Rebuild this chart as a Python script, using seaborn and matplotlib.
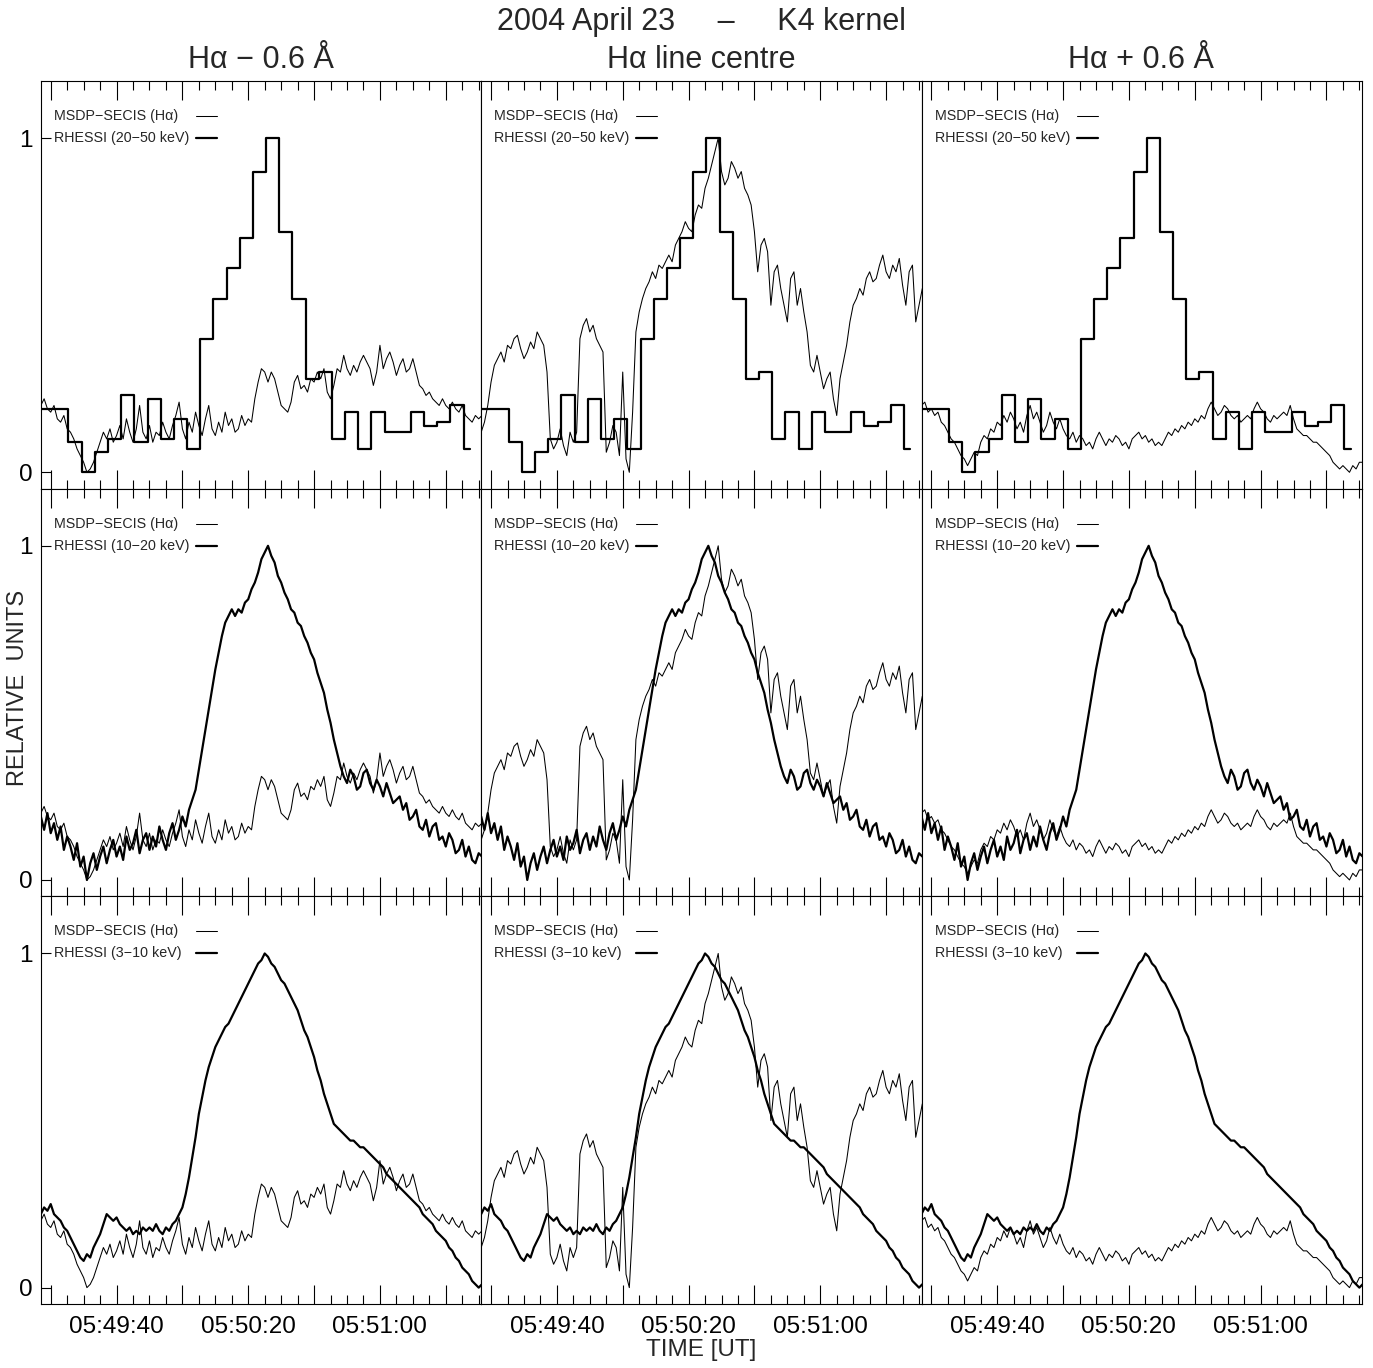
"""
2004 April 23 - K4 kernel: MSDP-SECIS H-alpha vs RHESSI light curves
"""

import numpy as np
import matplotlib
matplotlib.use('Agg')
import matplotlib.pyplot as plt
import seaborn as sns
from matplotlib.lines import Line2D
from matplotlib.ticker import MultipleLocator, FuncFormatter

# ====================
# Data (time in seconds after 05:49:00 UT)
# ====================
t_sec = np.arange(17, 152)          # 1 s cadence
t_bins = np.arange(15.4, 148, 4)    # 4 s RHESSI 20-50 keV bin centres

ha_blue = [  # H-alpha -0.6 A
    0.20, 0.22, 0.19, 0.18, 0.20, 0.16, 0.15, 0.17, 0.13, 0.12,
    0.10, 0.07, 0.05, 0.03, 0.00, 0.01, 0.03, 0.06, 0.09, 0.12,
    0.10, 0.13, 0.09, 0.11, 0.14, 0.10, 0.16, 0.12, 0.09, 0.13,
    0.20, 0.12, 0.10, 0.14, 0.09, 0.12, 0.11, 0.15, 0.12, 0.10,
    0.14, 0.17, 0.21, 0.13, 0.10, 0.15, 0.12, 0.18, 0.14, 0.11,
    0.16, 0.20, 0.13, 0.11, 0.15, 0.12, 0.18, 0.14, 0.16, 0.12,
    0.13, 0.17, 0.14, 0.16, 0.15, 0.22, 0.27, 0.31, 0.30, 0.27,
    0.30, 0.28, 0.24, 0.20, 0.19, 0.18, 0.21, 0.27, 0.29, 0.25,
    0.26, 0.24, 0.28, 0.27, 0.30, 0.28, 0.31, 0.24, 0.22, 0.26,
    0.31, 0.30, 0.35, 0.31, 0.29, 0.32, 0.30, 0.33, 0.35, 0.33,
    0.31, 0.26, 0.30, 0.38, 0.31, 0.34, 0.36, 0.33, 0.29, 0.32,
    0.34, 0.30, 0.31, 0.34, 0.30, 0.26, 0.25, 0.23, 0.24, 0.22,
    0.21, 0.20, 0.22, 0.20, 0.19, 0.21, 0.19, 0.18, 0.20, 0.17,
    0.16, 0.15, 0.17, 0.16, 0.17,
]

ha_centre = [  # H-alpha line centre
    0.12, 0.15, 0.20, 0.27, 0.32, 0.34, 0.36, 0.33, 0.38, 0.37,
    0.40, 0.41, 0.37, 0.34, 0.36, 0.39, 0.37, 0.42, 0.40, 0.38,
    0.30, 0.10, 0.07, 0.09, 0.13, 0.08, 0.05, 0.12, 0.09, 0.12,
    0.40, 0.44, 0.46, 0.42, 0.44, 0.40, 0.38, 0.36, 0.06, 0.09,
    0.14, 0.12, 0.05, 0.30, 0.04, 0.00, 0.18, 0.42, 0.48, 0.52,
    0.55, 0.57, 0.60, 0.58, 0.62, 0.61, 0.63, 0.65, 0.63, 0.68,
    0.70, 0.72, 0.75, 0.73, 0.72, 0.77, 0.80, 0.79, 0.85, 0.88,
    0.92, 0.96, 1.00, 0.90, 0.86, 0.88, 0.93, 0.91, 0.88, 0.90,
    0.85, 0.83, 0.80, 0.72, 0.60, 0.68, 0.70, 0.66, 0.50, 0.60,
    0.62, 0.55, 0.50, 0.45, 0.58, 0.60, 0.50, 0.55, 0.48, 0.42,
    0.32, 0.30, 0.35, 0.30, 0.25, 0.28, 0.30, 0.22, 0.17, 0.28,
    0.33, 0.38, 0.45, 0.50, 0.52, 0.55, 0.53, 0.58, 0.60, 0.57,
    0.58, 0.62, 0.65, 0.60, 0.58, 0.62, 0.60, 0.64, 0.56, 0.50,
    0.60, 0.62, 0.45, 0.50, 0.55,
]

ha_red = [  # H-alpha +0.6 A
    0.20, 0.21, 0.18, 0.19, 0.17, 0.18, 0.15, 0.14, 0.12, 0.10,
    0.09, 0.07, 0.05, 0.04, 0.02, 0.04, 0.06, 0.05, 0.09, 0.11,
    0.10, 0.13, 0.12, 0.15, 0.14, 0.17, 0.15, 0.18, 0.16, 0.13,
    0.15, 0.12, 0.17, 0.20, 0.16, 0.18, 0.15, 0.12, 0.14, 0.18,
    0.15, 0.13, 0.16, 0.13, 0.11, 0.10, 0.12, 0.09, 0.11, 0.10,
    0.08, 0.09, 0.07, 0.10, 0.12, 0.10, 0.08, 0.10, 0.09, 0.11,
    0.10, 0.08, 0.09, 0.07, 0.10, 0.11, 0.12, 0.10, 0.11, 0.09,
    0.10, 0.08, 0.09, 0.08, 0.10, 0.12, 0.11, 0.13, 0.12, 0.14,
    0.13, 0.15, 0.14, 0.16, 0.15, 0.17, 0.16, 0.19, 0.21, 0.19,
    0.17, 0.18, 0.20, 0.19, 0.17, 0.16, 0.17, 0.15, 0.16, 0.17,
    0.16, 0.19, 0.21, 0.19, 0.18, 0.16, 0.15, 0.17, 0.16, 0.17,
    0.18, 0.17, 0.20, 0.16, 0.13, 0.12, 0.11, 0.11, 0.10, 0.09,
    0.09, 0.08, 0.07, 0.06, 0.05, 0.03, 0.02, 0.01, 0.02, 0.01,
    0.00, 0.02, 0.01, 0.03, 0.03,
]

hxr_10_20 = [  # RHESSI 10-20 keV
    0.19, 0.15, 0.20, 0.14, 0.17, 0.12, 0.16, 0.09, 0.13, 0.10,
    0.06, 0.11, 0.04, 0.07, 0.00, 0.05, 0.08, 0.03, 0.07, 0.10,
    0.05, 0.09, 0.12, 0.07, 0.10, 0.06, 0.13, 0.09, 0.11, 0.15,
    0.08, 0.12, 0.14, 0.09, 0.13, 0.10, 0.16, 0.12, 0.09, 0.14,
    0.17, 0.12, 0.15, 0.19, 0.16, 0.21, 0.24, 0.27, 0.33, 0.39,
    0.45, 0.51, 0.57, 0.63, 0.68, 0.73, 0.77, 0.79, 0.81, 0.79,
    0.81, 0.80, 0.83, 0.84, 0.87, 0.89, 0.92, 0.96, 0.98, 1.00,
    0.97, 0.95, 0.91, 0.89, 0.86, 0.84, 0.81, 0.80, 0.77, 0.76,
    0.73, 0.71, 0.68, 0.66, 0.62, 0.59, 0.56, 0.51, 0.47, 0.42,
    0.38, 0.34, 0.31, 0.29, 0.33, 0.31, 0.27, 0.28, 0.32, 0.33,
    0.29, 0.27, 0.30, 0.28, 0.25, 0.29, 0.26, 0.23, 0.24, 0.25,
    0.21, 0.23, 0.18, 0.19, 0.21, 0.16, 0.15, 0.18, 0.13, 0.16,
    0.17, 0.12, 0.13, 0.10, 0.14, 0.12, 0.08, 0.09, 0.12, 0.07,
    0.10, 0.06, 0.05, 0.08, 0.07,
]

hxr_3_10 = [  # RHESSI 3-10 keV
    0.22, 0.24, 0.23, 0.25, 0.22, 0.21, 0.20, 0.18, 0.17, 0.15,
    0.13, 0.11, 0.09, 0.08, 0.10, 0.09, 0.12, 0.14, 0.16, 0.19,
    0.22, 0.21, 0.20, 0.21, 0.19, 0.18, 0.17, 0.18, 0.16, 0.17,
    0.16, 0.18, 0.17, 0.18, 0.17, 0.19, 0.17, 0.16, 0.18, 0.17,
    0.19, 0.20, 0.22, 0.24, 0.28, 0.33, 0.39, 0.45, 0.52, 0.57,
    0.62, 0.66, 0.69, 0.72, 0.74, 0.76, 0.78, 0.79, 0.81, 0.83,
    0.85, 0.87, 0.89, 0.91, 0.93, 0.95, 0.97, 0.98, 1.00, 0.99,
    0.97, 0.96, 0.94, 0.92, 0.91, 0.89, 0.87, 0.85, 0.83, 0.80,
    0.77, 0.75, 0.72, 0.69, 0.65, 0.62, 0.58, 0.55, 0.52, 0.49,
    0.48, 0.47, 0.46, 0.45, 0.44, 0.44, 0.43, 0.42, 0.42, 0.41,
    0.40, 0.39, 0.38, 0.37, 0.36, 0.34, 0.33, 0.32, 0.31, 0.30,
    0.29, 0.28, 0.27, 0.26, 0.25, 0.24, 0.22, 0.21, 0.20, 0.19,
    0.17, 0.16, 0.15, 0.14, 0.12, 0.11, 0.09, 0.08, 0.06, 0.05,
    0.04, 0.02, 0.01, 0.00, 0.01,
]

hxr_20_50 = [  # RHESSI 20-50 keV, 4 s bins
    0.19, 0.19, 0.19, 0.09, 0.00, 0.06, 0.10, 0.23, 0.09, 0.22,
    0.10, 0.16, 0.07, 0.40, 0.52, 0.61, 0.70, 0.90, 1.00, 0.72,
    0.52, 0.28, 0.30, 0.10, 0.18, 0.07, 0.18, 0.12, 0.12, 0.18,
    0.14, 0.15, 0.20, 0.07,
]

col_titles = ['H\u03b1 \u2212 0.6 \u00c5', 'H\u03b1 line centre', 'H\u03b1 + 0.6 \u00c5']
ha_series = [ha_blue, ha_centre, ha_red]
hxr_series = [(t_bins, hxr_20_50), (t_sec, hxr_10_20), (t_sec, hxr_3_10)]
bands = ['20\u221250 keV', '10\u221220 keV', '3\u221210 keV']

# ====================
# Figure
# ====================
sns.set_theme(style='ticks')
plt.rcParams['font.family'] = ['Liberation Sans', 'DejaVu Sans']
plt.rcParams['axes.edgecolor'] = 'black'
plt.rcParams['xtick.color'] = 'black'
plt.rcParams['ytick.color'] = 'black'

W, H = 1373, 1368
fig = plt.figure(figsize=(W / 100, H / 100), dpi=100)
gs = fig.add_gridspec(3, 3, left=41 / W, right=1362 / W, top=1 - 81 / H,
                      bottom=1 - 1304 / H, wspace=0, hspace=0)


def time_fmt(v, pos):
    s = int(round(v))
    if s % 40 != 0:
        return ''
    return f"05:{49 + s // 60:02d}:{s % 60:02d}"


thin, thick = 0.75, 1.6

for r in range(3):
    for c in range(3):
        ax = fig.add_subplot(gs[r, c])
        sns.lineplot(x=t_sec, y=ha_series[c], ax=ax, color='black', lw=thin,
                     estimator=None, legend=False)
        hx, hy = hxr_series[r]
        sns.lineplot(x=hx, y=hy, ax=ax, color='black', lw=thick,
                     drawstyle='steps-mid' if r == 0 else 'default',
                     estimator=None, legend=False)

        ax.set_xlim(17.05, 150.8)
        ax.set_ylim(-0.049, 1.171)
        ax.set_xlabel('')
        ax.set_ylabel('')
        for sp in ax.spines.values():
            sp.set_visible(True)
            sp.set_color('black')
            sp.set_linewidth(0.8)

        ax.xaxis.set_major_locator(MultipleLocator(20))
        ax.xaxis.set_minor_locator(MultipleLocator(5))
        ax.xaxis.set_major_formatter(FuncFormatter(time_fmt))
        ax.tick_params(axis='x', which='both', direction='in', top=True, bottom=True,
                       width=0.8, labelsize=17.5, pad=9, labelbottom=(r == 2))
        ax.tick_params(axis='x', which='major', length=14)
        ax.tick_params(axis='x', which='minor', length=6.8)

        ax.set_yticks([0, 1])
        ax.set_yticklabels(['0', '1'])
        ax.tick_params(axis='y', direction='in', length=7, width=0.8,
                       left=(c == 0), right=False, labelleft=(c == 0),
                       labelsize=17.5, pad=6)

        # key: labels left-aligned, line samples in a fixed column
        key_labels = ['MSDP\u2212SECIS (H\u03b1)', f'RHESSI ({bands[r]})']
        for lab, y, lw in zip(key_labels, [1 - 35 / 407, 1 - 57 / 407], [thin, thick]):
            ax.text(13 / 440, y, lab, transform=ax.transAxes, fontsize=10.3,
                    ha='left', va='center')
            ax.add_line(Line2D([155 / 440, 176 / 440], [y, y], transform=ax.transAxes,
                               color='black', lw=lw))

        if r == 0:
            cx = (41 + 440 * c + 220) / W
            fig.text(cx, 1 - 60 / H, col_titles[c], ha='center', va='center', fontsize=22)

fig.text(701.5 / W, 1 - 22 / H, '2004 April 23     \u2013     K4 kernel',
         ha='center', va='center', fontsize=22)
fig.text(701.5 / W, 1 - 1350 / H, 'TIME [UT]', ha='center', va='center', fontsize=17.5)
fig.text(18 / W, 1 - 688 / H, 'RELATIVE  UNITS', ha='center', va='center',
         rotation=90, fontsize=17)

plt.savefig('out.png', dpi=100)
plt.close()
